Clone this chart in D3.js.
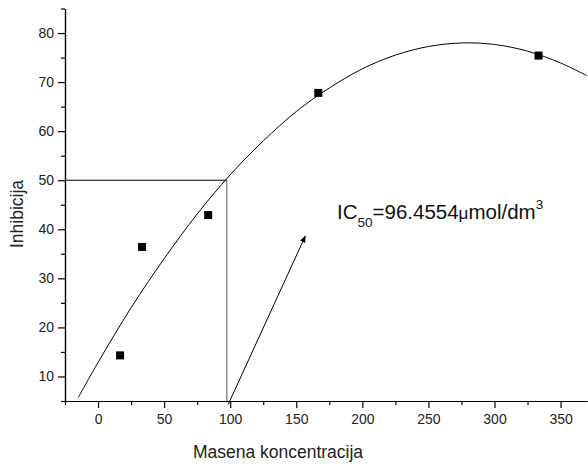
<!DOCTYPE html>
<html>
<head>
<meta charset="utf-8">
<script src="https://cdn.jsdelivr.net/npm/d3@7"></script>
<style>
  html, body { margin: 0; padding: 0; background: #fff; }
  svg { display: block; font-family: "Liberation Sans", Arial, sans-serif; }
</style>
</head>
<body>
<svg id="chart" width="588" height="464"></svg>
<script>
// ---- data ----
const concentrations = [16.67, 33.33, 83.33, 166.67, 333.33];
const inhibition = [14.3, 36.4, 42.9, 67.8, 75.4];
// fitted curve
const curveX = [-15, 0, 25, 50, 75, 100, 125, 150, 175, 200, 225, 250, 275, 300, 325, 350, 370];
const curveY = [5.7, 12.85, 24.0, 34.0, 43.1, 51.1, 58.0, 64.0, 68.8, 72.7, 75.5, 77.25, 77.98, 77.67, 76.3, 73.9, 71.3];
const xMajorTicks = [0, 50, 100, 150, 200, 250, 300, 350];
const xMinorTicks = [-25, 25, 75, 125, 175, 225, 275, 325];
const yMajorTicks = [10, 20, 30, 40, 50, 60, 70, 80];
const yMinorTicks = [5, 15, 25, 35, 45, 55, 65, 75, 85];
const ic50 = 97.5;
const ic50Level = 50;
const arrowFrom = [98.5, 4.3];
const arrowTo = [156.8, 38.6];
const xTitle = "Masena koncentracija";
const yTitle = "Inhibicija";

// ---- layout ----
const svg = d3.select("#chart");
const x = d3.scaleLinear().domain([-25, 370]).range([65, 587]);
const y = d3.scaleLinear().domain([5, 85]).range([401, 8.5]);

svg.append("defs").append("marker")
  .attr("id", "arrow").attr("viewBox", "0 0 10 10")
  .attr("refX", 9).attr("refY", 5)
  .attr("markerWidth", 7).attr("markerHeight", 7)
  .attr("markerUnits", "userSpaceOnUse")
  .attr("orient", "auto")
  .append("path").attr("d", "M0,1 L10,5 L0,9 Z").attr("fill", "#000");

// axes
const styleAxis = g => {
  g.select(".domain").attr("stroke", "#000").attr("stroke-width", 1.2);
  g.selectAll(".tick line").attr("stroke", "#000").attr("stroke-width", 1.2);
  g.selectAll("text").attr("fill", "#222").style("font-size", "14px")
    .style("font-family", "'Liberation Sans', Arial, sans-serif");
};

svg.append("g").attr("transform", "translate(0,401)")
  .call(d3.axisBottom(x).tickValues(xMinorTicks).tickSize(4).tickFormat("").tickSizeOuter(0))
  .call(styleAxis);
svg.append("g").attr("transform", "translate(0,401)")
  .call(d3.axisBottom(x).tickValues(xMajorTicks).tickSize(7).tickPadding(6).tickFormat(d3.format("d")).tickSizeOuter(0))
  .call(styleAxis);

svg.append("g").attr("transform", "translate(65,0)")
  .call(d3.axisLeft(y).tickValues(yMinorTicks).tickSize(4).tickFormat("").tickSizeOuter(0))
  .call(styleAxis);
svg.append("g").attr("transform", "translate(65,0)")
  .call(d3.axisLeft(y).tickValues(yMajorTicks).tickSize(7).tickPadding(4).tickFormat(d3.format("d")).tickSizeOuter(0))
  .call(styleAxis);

// axis titles
svg.append("text").attr("x", 278).attr("y", 457.5).attr("text-anchor", "middle")
  .style("font-size", "17.5px").attr("fill", "#222").text(xTitle);
svg.append("text").attr("transform", "translate(22.5,214) rotate(-90)")
  .attr("text-anchor", "middle").style("font-size", "17.5px").attr("fill", "#222").text(yTitle);

// fitted curve
const pts = curveX.map((d, i) => [d, curveY[i]]);
svg.append("path").datum(pts)
  .attr("fill", "none").attr("stroke", "#000").attr("stroke-width", 1)
  .attr("d", d3.line().x(d => x(d[0])).y(d => y(d[1])).curve(d3.curveCatmullRom));

// IC50 guide lines
svg.append("line")
  .attr("x1", x(-25)).attr("y1", y(ic50Level)).attr("x2", x(ic50)).attr("y2", y(ic50Level))
  .attr("stroke", "#000").attr("stroke-width", 1);
svg.append("line")
  .attr("x1", x(ic50)).attr("y1", y(ic50Level)).attr("x2", x(ic50)).attr("y2", y(5))
  .attr("stroke", "#555").attr("stroke-width", 1);

// arrow
svg.append("line")
  .attr("x1", x(arrowFrom[0])).attr("y1", y(arrowFrom[1]))
  .attr("x2", x(arrowTo[0])).attr("y2", y(arrowTo[1]))
  .attr("stroke", "#000").attr("stroke-width", 1).attr("marker-end", "url(#arrow)");

// data points
svg.append("g").selectAll("rect").data(concentrations).join("rect")
  .attr("x", (d) => x(d) - 4).attr("y", (d, i) => y(inhibition[i]) - 4)
  .attr("width", 8).attr("height", 8).attr("fill", "#000");

// annotation
const ann = svg.append("text").attr("x", 337).attr("y", 219).attr("fill", "#111")
  .style("font-size", "20.5px");
ann.append("tspan").text("IC");
ann.append("tspan").attr("dy", 8).style("font-size", "13.5px").text("50");
ann.append("tspan").attr("dy", -8).text("=96.4554");
ann.append("tspan").style("font-size", "17px").text("\u03bc");
ann.append("tspan").text("mol/dm");
ann.append("tspan").attr("dy", -10).style("font-size", "13.5px").text("3");
</script>
</body>
</html>
